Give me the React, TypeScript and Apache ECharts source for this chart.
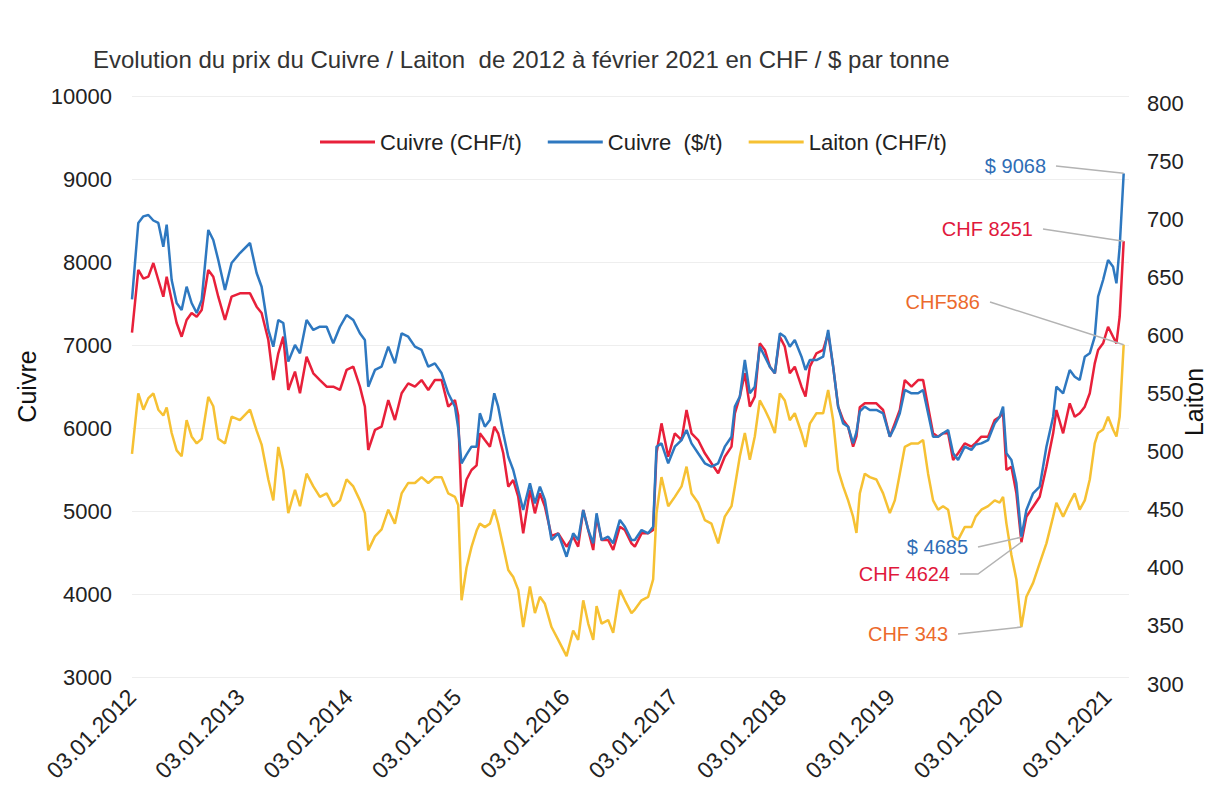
import { useEffect, useRef } from 'react';
import * as echarts from 'echarts';

// Dates as decimal years (2012.0 = 03.01.2012)
const dates = [
  2012.000, 2012.058, 2012.105, 2012.151, 2012.197, 2012.243, 2012.289, 2012.320, 2012.366, 2012.412,
  2012.458, 2012.504, 2012.550, 2012.597, 2012.643, 2012.704, 2012.750, 2012.796, 2012.858, 2012.919,
  2012.996, 2013.089, 2013.150, 2013.196, 2013.258, 2013.304, 2013.350, 2013.396, 2013.442, 2013.504,
  2013.550, 2013.611, 2013.673, 2013.734, 2013.796, 2013.857, 2013.919, 2013.980, 2014.042, 2014.103,
  2014.149, 2014.180, 2014.242, 2014.303, 2014.365, 2014.426, 2014.488, 2014.549, 2014.611, 2014.672,
  2014.734, 2014.795, 2014.857, 2014.918, 2014.980, 2015.010, 2015.041, 2015.087, 2015.133, 2015.180,
  2015.210, 2015.256, 2015.303, 2015.343, 2015.379, 2015.426, 2015.472, 2015.518, 2015.564, 2015.610,
  2015.672, 2015.718, 2015.764, 2015.810, 2015.871, 2015.933, 2016.010, 2016.071, 2016.117, 2016.164,
  2016.210, 2016.256, 2016.287, 2016.333, 2016.394, 2016.440, 2016.502, 2016.548, 2016.609, 2016.640,
  2016.702, 2016.763, 2016.809, 2016.840, 2016.886, 2016.948, 2017.009, 2017.071, 2017.117, 2017.163,
  2017.224, 2017.286, 2017.347, 2017.409, 2017.470, 2017.532, 2017.563, 2017.609, 2017.655, 2017.701,
  2017.747, 2017.793, 2017.840, 2017.886, 2017.932, 2017.978, 2018.024, 2018.070, 2018.116, 2018.178,
  2018.215, 2018.255, 2018.316, 2018.378, 2018.424, 2018.470, 2018.516, 2018.562, 2018.608, 2018.654,
  2018.685, 2018.716, 2018.762, 2018.808, 2018.869, 2018.931, 2018.993, 2019.039, 2019.085, 2019.131,
  2019.193, 2019.254, 2019.300, 2019.346, 2019.392, 2019.438, 2019.484, 2019.531, 2019.577, 2019.623,
  2019.684, 2019.746, 2019.785, 2019.838, 2019.900, 2019.961, 2020.007, 2020.038, 2020.069, 2020.115,
  2020.161, 2020.207, 2020.253, 2020.315, 2020.376, 2020.438, 2020.500, 2020.530, 2020.592, 2020.653,
  2020.699, 2020.745, 2020.792, 2020.838, 2020.884, 2020.915, 2020.961, 2021.007, 2021.053, 2021.084,
  2021.114, 2021.151,
];

const cuivreCHF = [
  7150, 7904, 7800, 7823, 7988, 7783, 7582, 7823, 7542, 7265,
  7100, 7301, 7386, 7341, 7422, 7904, 7823, 7582, 7301, 7582,
  7622, 7622, 7462, 7386, 7060, 6578, 6900, 7100, 6458, 6680,
  6418, 6859, 6659, 6578, 6498, 6498, 6458, 6699, 6739, 6498,
  6257, 5735, 5976, 6016, 6337, 6096, 6418, 6538, 6498, 6578,
  6458, 6578, 6578, 6257, 6337, 6150, 5052, 5380, 5494, 5550,
  5936, 5855, 5775, 6016, 5936, 5695, 5293, 5373, 5172, 4731,
  5253, 4972, 5213, 5052, 4700, 4731, 4570, 4690, 4570, 5012,
  4771, 4530, 4931, 4651, 4651, 4530, 4811, 4771, 4610, 4570,
  4731, 4731, 4771, 5695, 6056, 5654, 5936, 5855, 6217, 5936,
  5855, 5695, 5575, 5454, 5654, 5775, 6177, 6378, 6659, 6257,
  6378, 7020, 6940, 6739, 6659, 7100, 6980, 6659, 6739, 6498,
  6380, 6739, 6900, 6940, 7141, 6739, 6257, 6096, 6016, 5775,
  5900, 6250, 6297, 6297, 6297, 6217, 5895, 6056, 6217, 6578,
  6498, 6578, 6578, 6257, 5936, 5895, 5936, 5936, 5614, 5695,
  5815, 5775, 5820, 5895, 5895, 6096, 6136, 6177, 5494, 5534,
  5213, 4624, 4931, 5052, 5172, 5534, 5936, 6217, 5936, 6297,
  6136, 6177, 6257, 6418, 6779, 6940, 7020, 7220, 7100, 7020,
  7341, 8251,
];

const cuivreUSD = [
  7550, 8470, 8550, 8566, 8500, 8470, 8184, 8450, 7783, 7506,
  7422, 7702, 7506, 7386, 7542, 8386, 8265, 8024, 7663, 7988,
  8108, 8229, 7867, 7702, 7181, 6980, 7300, 7265, 6800, 7000,
  6900, 7301, 7181, 7220, 7220, 7020, 7220, 7361, 7301, 7141,
  7060, 6498, 6699, 6739, 6980, 6779, 7141, 7100, 6980, 6940,
  6739, 6779, 6659, 6418, 6257, 6000, 5575, 5680, 5775, 5775,
  6177, 6016, 6096, 6418, 6257, 5936, 5654, 5494, 5253, 5012,
  5333, 5092, 5293, 5133, 4650, 4731, 4449, 4731, 4651, 5012,
  4771, 4610, 4972, 4651, 4690, 4610, 4892, 4811, 4651, 4650,
  4771, 4731, 4811, 5775, 5815, 5575, 5775, 5855, 5976, 5815,
  5695, 5575, 5534, 5575, 5775, 5895, 6257, 6378, 6819, 6418,
  6498, 6980, 6859, 6739, 6659, 7141, 7100, 6980, 7060, 6859,
  6700, 6819, 6819, 6859, 7181, 6739, 6257, 6056, 6016, 5815,
  5950, 6200, 6257, 6217, 6217, 6177, 5895, 6016, 6177, 6458,
  6418, 6418, 6458, 6177, 5895, 5895, 5936, 5976, 5695, 5614,
  5775, 5735, 5800, 5815, 5855, 6056, 6136, 6257, 5695, 5614,
  5333, 4685, 5012, 5213, 5293, 5775, 6136, 6498, 6418, 6699,
  6618, 6578, 6859, 6900, 7100, 7582, 7783, 8024, 7944, 7743,
  8184, 9068,
];

const laitonCHF = [
  492, 544, 530, 540, 544, 530, 525, 532, 510, 495,
  490, 521, 507, 501, 505, 541, 533, 505, 501, 524,
  521, 530, 512, 500, 470, 452, 498, 478, 441, 461,
  447, 475, 464, 455, 458, 447, 452, 470, 464, 452,
  441, 409, 421, 427, 444, 432, 458, 467, 467, 472,
  467, 472, 472, 458, 455, 448, 366, 394, 412, 426,
  432, 429, 432, 444, 432, 412, 392, 386, 375, 343,
  378, 355, 369, 363, 343, 332, 318, 340, 332, 366,
  346, 332, 361, 346, 349, 338, 375, 366, 355, 358,
  366, 369, 384, 441, 472, 447, 455, 464, 481, 458,
  450, 435, 432, 415, 438, 447, 464, 490, 510, 487,
  507, 538, 530, 521, 510, 544, 538, 521, 527, 510,
  498, 518, 527, 527, 547, 521, 478, 464, 452, 438,
  424, 458, 475, 472, 470, 458, 441, 452, 475, 498,
  501, 501, 504, 475, 452, 444, 447, 444, 421, 418,
  429, 429, 438, 444, 447, 452, 450, 455, 432, 405,
  384, 343, 369, 381, 398, 415, 438, 450, 438, 450,
  458, 444, 452, 470, 501, 510, 513, 524, 513, 507,
  524, 586,
];

const seriesNames = ['Cuivre (CHF/t)', 'Cuivre  ($/t)', 'Laiton (CHF/t)'];
const seriesColors = ['#e8203a', '#2e78c0', '#f6c133'];
const yearTicks = [2012, 2013, 2014, 2015, 2016, 2017, 2018, 2019, 2020, 2021];

const titleText = 'Evolution du prix du Cuivre / Laiton  de 2012 à février 2021 en CHF / $ par tonne';
const leftAxisName = 'Cuivre';
const rightAxisName = 'Laiton';

// annotations: which series, which date (last point / March 2020 low), label text and label anchor
const annotations = [
  { text: '$ 9068', series: 1, at: 2021.151, color: '#2f6db5', lx: 1046, ly: 166, bend: 0 },
  { text: 'CHF 8251', series: 0, at: 2021.151, color: '#e0183c', lx: 1033, ly: 229, bend: 0 },
  { text: 'CHF586', series: 2, at: 2021.151, color: '#ec6a2c', lx: 980, ly: 302, bend: 0 },
  { text: '$ 4685', series: 1, at: 2020.207, color: '#2f6db5', lx: 968, ly: 547, bend: 0 },
  { text: 'CHF 4624', series: 0, at: 2020.207, color: '#e0183c', lx: 950, ly: 574, bend: 18 },
  { text: 'CHF 343', series: 2, at: 2020.207, color: '#ec6a2c', lx: 948, ly: 634, bend: 0 },
];

const FONT = '"Liberation Sans", Arial, sans-serif';

export default function App() {
  const ref = useRef<HTMLDivElement>(null);
  useEffect(() => {
    if (!ref.current) return;
    const chart = echarts.init(ref.current, null, { renderer: 'svg' });
    const allData = [cuivreCHF, cuivreUSD, laitonCHF];
    chart.setOption({
      animation: false,
      backgroundColor: '#ffffff',
      textStyle: { fontFamily: FONT },
      title: {
        text: titleText,
        left: 88,
        top: 42,
        textStyle: { fontSize: 24, fontWeight: 'normal', color: '#333', fontFamily: FONT },
      },
      legend: {
        left: 315,
        top: 126,
        icon: 'rect',
        itemWidth: 55,
        itemHeight: 3,
        itemGap: 26,
        data: seriesNames,
        textStyle: { fontSize: 22, color: '#222', fontFamily: FONT },
      },
      grid: { left: 132, right: 78, top: 96, bottom: 129, outerBoundsMode: 'none' },
      xAxis: {
        type: 'value',
        min: yearTicks[0],
        max: 2021.2,
        interval: 1,
        axisLine: { show: false },
        axisTick: { show: false },
        splitLine: { show: false },
        axisLabel: {
          rotate: 45,
          fontSize: 23,
          color: '#222',
          margin: 16,
          showMaxLabel: false,
          fontFamily: FONT,
          formatter: (v: number) => (yearTicks.includes(Math.round(v * 1000) / 1000) ? '03.01.' + v : ''),
        },
      },
      yAxis: [
        {
          type: 'value',
          min: 3000,
          max: 10000,
          interval: 1000,
          name: leftAxisName,
          nameLocation: 'middle',
          nameGap: 70,
          nameRotate: 90,
          nameTextStyle: { fontSize: 25, color: '#111', fontFamily: FONT },
          axisLine: { show: false },
          axisTick: { show: false },
          splitLine: { lineStyle: { color: '#eeeeee', width: 1 } },
          axisLabel: {
            fontSize: 22,
            color: '#222',
            margin: 20,
            fontFamily: FONT,
            formatter: (v: number) => String(v),
          },
        },
        {
          type: 'value',
          position: 'right',
          min: 300,
          max: 800,
          interval: 50,
          axisLine: { show: false },
          axisTick: { show: false },
          splitLine: { show: false },
          axisLabel: {
            fontSize: 22,
            color: '#222',
            margin: 18,
            verticalAlign: 'top',
            lineHeight: 14,
            fontFamily: FONT,
            formatter: (v: number) => String(v),
          },
        },
      ],
      series: allData.map((arr, s) => ({
        name: seriesNames[s],
        type: 'line',
        yAxisIndex: s === 2 ? 1 : 0,
        showSymbol: false,
        symbol: 'none',
        color: seriesColors[s],
        lineStyle: { width: 2.5, color: seriesColors[s] },
        data: dates.map((d, i) => [d, arr[i]]),
        z: s === 1 ? 3 : 2,
      })),
    });

    const graphics: any[] = [
      {
        type: 'text',
        x: 1194,
        y: 402,
        rotation: Math.PI / 2,
        style: {
          text: rightAxisName,
          fill: '#111',
          font: '25px ' + FONT,
          align: 'center',
          verticalAlign: 'middle',
        },
      },
    ];
    annotations.forEach((a) => {
      const arr = allData[a.series];
      const idx = dates.indexOf(a.at);
      const p = chart.convertToPixel(
        { xAxisIndex: 0, yAxisIndex: a.series === 2 ? 1 : 0 },
        [dates[idx], arr[idx]]
      ) as number[];
      graphics.push({
        type: 'text',
        x: a.lx,
        y: a.ly,
        style: {
          text: a.text,
          fill: a.color,
          font: '20px ' + FONT,
          align: 'right',
          verticalAlign: 'middle',
        },
      });
      const start = [a.lx + 10, a.ly];
      const pts = a.bend ? [start, [start[0] + a.bend, a.ly], [p[0], p[1]]] : [start, [p[0], p[1]]];
      graphics.push({
        type: 'polyline',
        shape: { points: pts },
        style: { stroke: '#b3b3b3', lineWidth: 1.5, fill: 'none' },
        z: 10,
      });
    });
    chart.setOption({ graphic: graphics });

    return () => chart.dispose();
  }, []);
  return (
    <div
      ref={ref}
      style={{ position: 'fixed', left: 0, top: 0, width: 1207, height: 806, background: '#fff' }}
    />
  );
}
